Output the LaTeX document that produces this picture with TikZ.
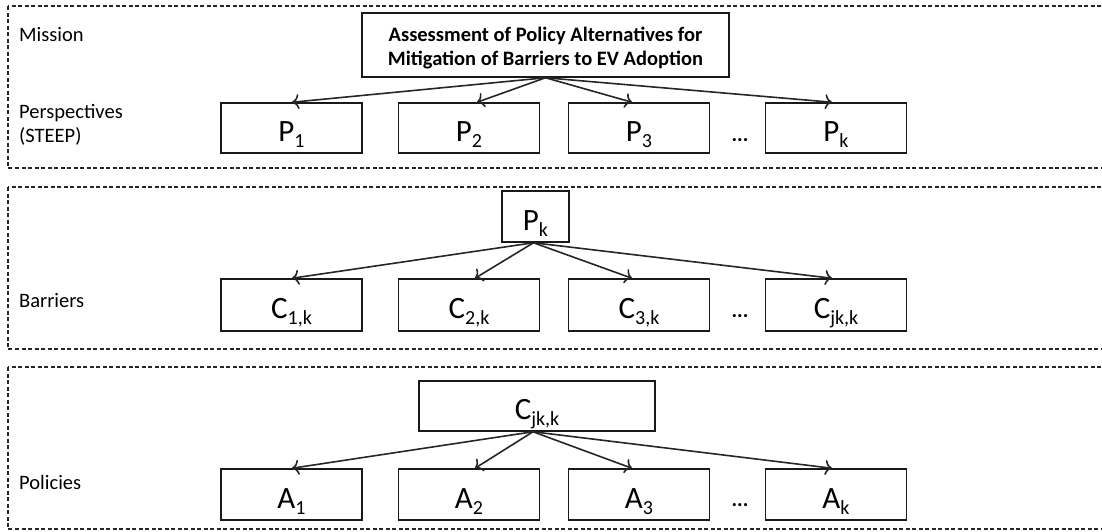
\documentclass[tikz,border=0pt]{standalone}
\usepackage{fontspec}
\setmainfont{Carlito}
\usetikzlibrary{arrows.meta}
\newcommand{\sbs}[1]{\raisebox{-6pt}{\fontsize{20}{20}\selectfont #1}}
\begin{document}
\begin{tikzpicture}[x=1pt,y=-1pt,
  lane/.style={draw=black!85, line width=1.2pt, dash pattern=on 4pt off 2.5pt},
  lbl/.style={anchor=west, font=\fontsize{20.5}{24}\selectfont, align=left, inner sep=0},
  box/.style={draw=black!90, line width=1.5pt, inner sep=0, minimum height=50pt,
              font=\fontsize{31}{31}\selectfont, text height=32pt, text depth=5pt},
  wbox/.style={box, minimum width=141pt},
  arr/.style={draw=black!85, line width=1.6pt, -{To[length=7pt,width=15pt]}},
  dotsn/.style={font=\fontsize{21}{21}\selectfont\bfseries, inner sep=0}
]
\useasboundingbox (0,0) rectangle (1102,531);
% lanes
\draw[lane] (8,6) rectangle (1114,168);
\draw[lane] (8,187) rectangle (1114,349);
\draw[lane] (8,367) rectangle (1114,529);
% lane labels
\node[lbl] (lmission) at (19,35) {Mission};
\node[lbl] (lpersp) at (19,125) {Perspectives\\(STEEP)};
\node[lbl] (lbarr) at (19,301) {Barriers};
\node[lbl] (lpol) at (19,482) {Policies};
% row 1
\node[draw=black!90, line width=1.5pt, inner sep=0, minimum width=367pt, minimum height=64pt,
      align=center, font=\fontsize{20.5}{24}\selectfont\bfseries] (m) at (545.5,45)
  {\rule{0pt}{20pt}Assessment of Policy Alternatives for\\Mitigation of Barriers to EV Adoption};
\node[wbox] (p1) at (291.5,128) {P\sbs{1}};
\node[wbox] (p2) at (469,128) {P\sbs{2}};
\node[wbox] (p3) at (639,128) {P\sbs{3}};
\node[wbox] (pk) at (836,128) {P\sbs{k}};
\node[dotsn] (d1) at (740,140) {...};
\draw[arr] (m.south) -- ([xshift=0.5pt]p1.north);
\draw[arr] (m.south) -- ([xshift=8pt]p2.north);
\draw[arr] (m.south) -- ([xshift=-7pt]p3.north);
\draw[arr] (m.south) -- ([xshift=-4pt]pk.north);
% row 2
\node[box, minimum width=67pt, minimum height=51pt] (pk2) at (535.5,216.5) {P\sbs{k}};
\node[wbox, minimum height=52pt] (c1) at (291.5,305) {C\sbs{1,k}};
\node[wbox, minimum height=52pt] (c2) at (469,305) {C\sbs{2,k}};
\node[wbox, minimum height=52pt] (c3) at (639,305) {C\sbs{3,k}};
\node[wbox, minimum height=52pt] (cj) at (836,305) {C\sbs{jk,k}};
\node[dotsn] (d2) at (740,316) {...};
\draw[arr] ([xshift=-2pt]pk2.south) -- ([xshift=0.5pt]c1.north);
\draw[arr] ([xshift=-2pt]pk2.south) -- ([xshift=6pt]c2.north);
\draw[arr] ([xshift=-2pt]pk2.south) -- ([xshift=-7pt]c3.north);
\draw[arr] ([xshift=-2pt]pk2.south) -- ([xshift=-4pt]cj.north);
% row 3
\node[box, minimum width=236pt] (cj3) at (537,406) {C\sbs{jk,k}};
\node[wbox, minimum height=51pt] (a1) at (291.5,494.5) {A\sbs{1}};
\node[wbox, minimum height=51pt] (a2) at (469,494.5) {A\sbs{2}};
\node[wbox, minimum height=51pt] (a3) at (639,494.5) {A\sbs{3}};
\node[wbox, minimum height=51pt] (ak) at (836,494.5) {A\sbs{k}};
\node[dotsn] (d3) at (740,505) {...};
\draw[arr] ([xshift=-4pt]cj3.south) -- ([xshift=0.5pt]a1.north);
\draw[arr] ([xshift=-4pt]cj3.south) -- ([xshift=6pt]a2.north);
\draw[arr] ([xshift=-4pt]cj3.south) -- ([xshift=-7pt]a3.north);
\draw[arr] ([xshift=-4pt]cj3.south) -- ([xshift=-4pt]ak.north);
\end{tikzpicture}
\end{document}
